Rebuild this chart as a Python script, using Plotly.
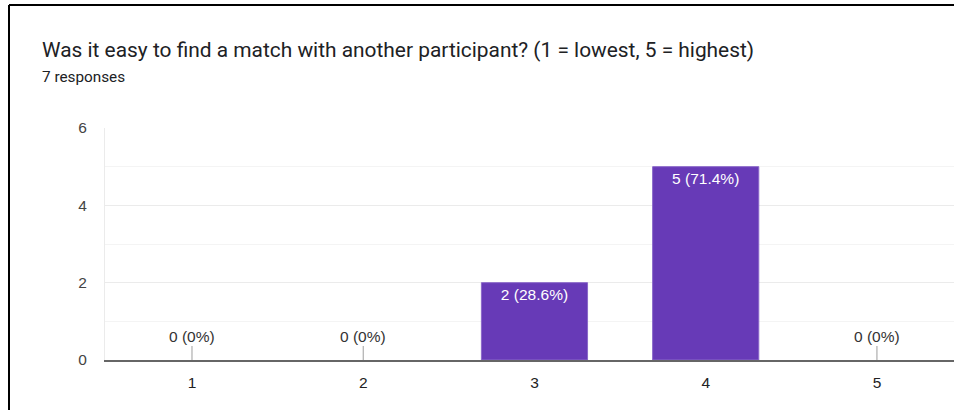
import plotly.graph_objects as go

# Survey results
question = "Was it easy to find a match with another participant? (1 = lowest, 5 = highest)"
categories = ["1", "2", "3", "4", "5"]
counts = [0, 0, 2, 5, 0]
total = sum(counts)

x_pos = [int(c) for c in categories]
labels = []
for n in counts:
    pct = 100 * n / total
    pct_txt = f"{pct:.1f}".rstrip("0").rstrip(".")
    labels.append(f"{n} ({pct_txt}%)")

PURPLE = "#673ab7"
SANS = "Liberation Sans, Arial, sans-serif"
FS = 15.5

fig = go.Figure()
fig.add_trace(go.Bar(
    x=x_pos,
    y=counts,
    width=0.62,
    marker=dict(color=PURPLE,
                line=dict(color="#8a68c9", width=[1 if n > 0 else 0 for n in counts])),
    text=[lab if n > 0 else "" for lab, n in zip(labels, counts)],
    textposition="inside",
    insidetextanchor="end",
    textfont=dict(family=SANS, size=FS, color="white"),
    hoverinfo="skip",
))

# Zero-valued categories get a small tick with the label above the baseline
annotations = []
for xv, n, lab in zip(x_pos, counts, labels):
    if n == 0:
        annotations.append(dict(
            x=xv, y=0, xref="x", yref="y", text=lab,
            showarrow=True, arrowhead=0, arrowwidth=1, arrowcolor="#9e9e9e",
            ax=0, ay=-24, font=dict(family=SANS, size=FS, color="#333333"),
        ))

# Plot area spans x 105..954 px, y 128..360 px
TOP, BOT = 128, 360
PW, PH = 849.0, float(BOT - TOP)
def px_x(p):
    return (p - 105) / PW
def px_y(p):
    return (BOT - p) / PH

annotations.append(dict(
    x=px_x(40), y=px_y(50), xref="paper", yref="paper", xanchor="left", yanchor="middle",
    text=question, showarrow=False,
    font=dict(family="Roboto, Arial, sans-serif", size=20.9, color="#202124"),
))
annotations.append(dict(
    x=px_x(40), y=px_y(77), xref="paper", yref="paper", xanchor="left", yanchor="middle",
    text=f"{total} responses", showarrow=False,
    font=dict(family="Roboto, Arial, sans-serif", size=15.3, color="#202124"),
))

shapes = [
    dict(type="line", xref="paper", yref="paper", x0=px_x(9), x1=px_x(960),
         y0=px_y(5), y1=px_y(5), line=dict(color="black", width=2)),
    dict(type="line", xref="paper", yref="paper", x0=px_x(9), x1=px_x(9),
         y0=px_y(5), y1=px_y(415), line=dict(color="black", width=2)),
]

fig.update_layout(
    width=954, height=410,
    margin=dict(l=105, r=0, t=TOP, b=410 - BOT),
    paper_bgcolor="white", plot_bgcolor="white",
    showlegend=False,
    annotations=annotations,
    shapes=shapes,
    xaxis=dict(
        range=[0.492, 5.45],
        tickmode="array", tickvals=x_pos, ticktext=categories,
        tickfont=dict(family=SANS, size=FS, color="#222222"),
        showgrid=False, zeroline=False,
        showline=True, linecolor="#666666", linewidth=2,
        ticks="", ticklabelstandoff=7,
    ),
    yaxis=dict(
        range=[0, 6], dtick=2, tick0=0,
        tickfont=dict(family=SANS, size=FS, color="#444444"),
        showgrid=True, gridcolor="#ebebeb", gridwidth=1,
        minor=dict(dtick=1, showgrid=True, gridcolor="#f4f4f4", gridwidth=1),
        zeroline=False,
        showline=True, linecolor="#ebebeb", linewidth=1,
        ticks="", ticklabelstandoff=14,
    ),
)

fig.write_html("out.html")
